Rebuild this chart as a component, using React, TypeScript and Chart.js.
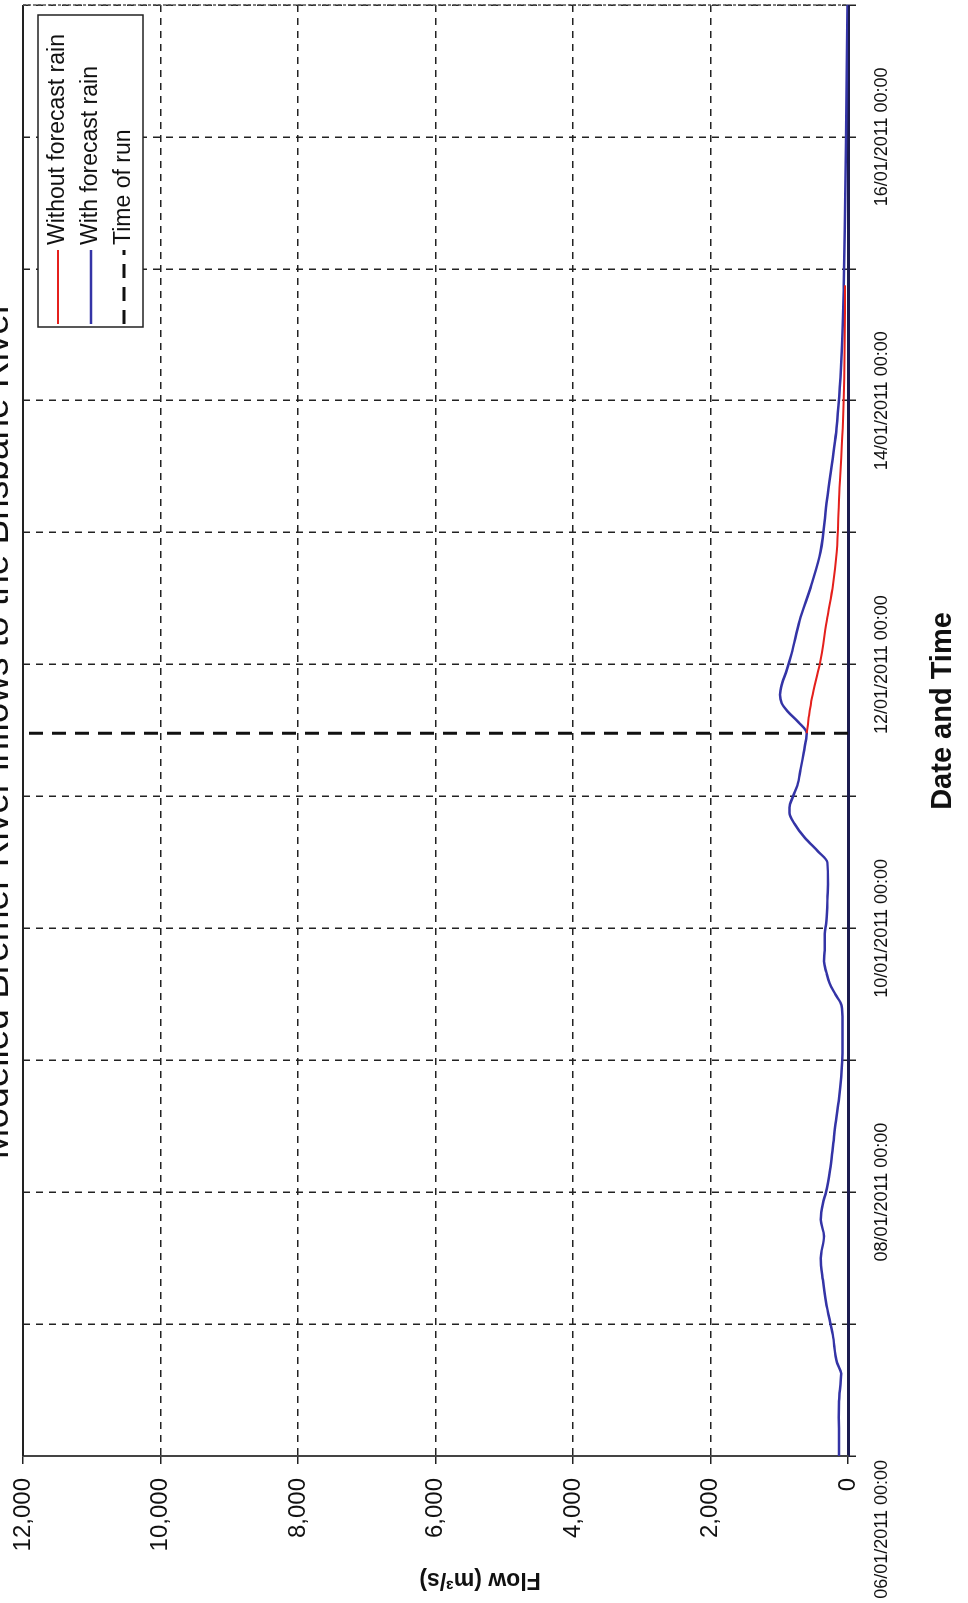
import React, { useEffect, useRef } from 'react';
import { Chart, registerables } from 'chart.js';

Chart.register(...registerables);

// ---------- data ----------
const chartTitle = 'Modelled Bremer River inflows to the Brisbane River';
const xAxisTitle = 'Date and Time';
const yAxisTitle = 'Flow (m³/s)';

// x ticks every 24 h from 06/01/2011 00:00; labels every 48 h
const dateTickLabels = [
  '06/01/2011 00:00',
  '08/01/2011 00:00',
  '10/01/2011 00:00',
  '12/01/2011 00:00',
  '14/01/2011 00:00',
  '16/01/2011 00:00',
];

// hours since 06/01/2011 00:00
const hoursWith = [0, 3, 7, 10, 15, 17, 22, 28, 32, 36, 40, 43, 46, 48, 52, 56, 61, 65, 72, 79, 82, 84, 86, 88, 90, 92, 95, 97, 101, 104, 108, 110, 112.5, 115, 117, 118, 120, 122, 125, 128, 131.5, 133.5, 135.5, 137, 138.5, 140.5, 143, 146, 152, 158.5, 164.5, 174, 187, 200, 213, 226, 239, 252, 264];
const flowWith = [130, 130, 135, 130, 100, 160, 220, 320, 365, 395, 350, 395, 365, 320, 262, 222, 175, 130, 85, 80, 95, 184, 267, 315, 350, 340, 340, 315, 300, 291, 300, 436, 630, 776, 850, 850, 800, 737, 689, 645, 600, 720, 880, 965, 990, 960, 890, 820, 703, 533, 400, 306, 166, 93, 62, 44, 29, 17, 8];

const hoursWithout = [131.5, 134.5, 138, 144, 152.5, 158.5, 164.5, 174, 187, 200, 213];
const flowWithout = [600, 570, 525, 412, 301, 218, 165, 131, 78, 52, 42];

const runHour = 131.5;
const runFlows = [0, 12000];

const W = 1603;
const H = 968;
const FONT = '"Liberation Sans", Arial, sans-serif';

const textPlugin = {
  id: 'texts',
  afterDraw(chart: any) {
    const { ctx, chartArea, scales } = chart;
    const xs = scales.x;
    ctx.save();
    // chart title (partly cut off at the page edge, as in the scan)
    ctx.font = `37px ${FONT}`;
    ctx.fillStyle = '#111';
    ctx.textAlign = 'center';
    ctx.textBaseline = 'alphabetic';
    ctx.fillText(chartTitle, (chartArea.left + chartArea.right) / 2, chartArea.top - 15);

    // x tick labels
    ctx.font = `18px ${FONT}`;
    ctx.textBaseline = 'top';
    dateTickLabels.forEach((lab, i) => {
      const px = xs.getPixelForValue(i * 48);
      if (i === 0) {
        ctx.textAlign = 'right';
        ctx.fillText(lab, px - 4, chartArea.bottom + 25);
      } else {
        ctx.textAlign = 'center';
        ctx.fillText(lab, px, chartArea.bottom + 25);
      }
    });

    // x axis title
    ctx.font = `bold 29px ${FONT}`;
    ctx.textAlign = 'center';
    ctx.textBaseline = 'middle';
    ctx.fillText(xAxisTitle, chartArea.left + 745, chartArea.bottom + 95);

    // y axis title
    ctx.save();
    ctx.translate(24, chartArea.top + 457);
    ctx.rotate(-Math.PI / 2);
    ctx.font = `bold 23px ${FONT}`;
    ctx.fillText(yAxisTitle, 0, 0);
    ctx.restore();
    ctx.restore();
  },
};

const framePlugin = {
  id: 'frame',
  afterDraw(chart: any) {
    const { ctx, chartArea } = chart;
    const { left, right, top, bottom } = chartArea;
    ctx.save();
    ctx.strokeStyle = '#222';
    ctx.lineWidth = 2;
    ctx.beginPath();
    ctx.moveTo(left, top);
    ctx.lineTo(right, top);
    ctx.stroke();
    ctx.strokeStyle = '#555';
    ctx.lineWidth = 1.5;
    ctx.setLineDash([3, 2]);
    ctx.beginPath();
    ctx.moveTo(right, top);
    ctx.lineTo(right, bottom);
    ctx.stroke();
    ctx.restore();
  },
};

const legendPlugin = {
  id: 'boxLegend',
  afterDraw(chart: any) {
    const { ctx, chartArea } = chart;
    const ds = chart.data.datasets;
    const boxW = 312;
    const boxH = 105;
    const x0 = chartArea.right - 10 - boxW;
    const y0 = chartArea.top + 15;
    ctx.save();
    ctx.fillStyle = '#fff';
    ctx.fillRect(x0, y0, boxW, boxH);
    ctx.strokeStyle = '#222';
    ctx.lineWidth = 1.5;
    ctx.strokeRect(x0, y0, boxW, boxH);
    ctx.font = `23px ${FONT}`;
    ctx.textBaseline = 'middle';
    ctx.textAlign = 'left';
    ds.forEach((d: any, i: number) => {
      const cy = y0 + 20 + i * 33;
      ctx.save();
      ctx.strokeStyle = d.borderColor;
      ctx.lineWidth = d.borderWidth;
      ctx.setLineDash(d.borderDash || []);
      ctx.beginPath();
      ctx.moveTo(x0 + 3, cy);
      ctx.lineTo(x0 + 77, cy);
      ctx.stroke();
      ctx.restore();
      ctx.fillStyle = '#111';
      ctx.fillText(d.label, x0 + 82, cy);
    });
    ctx.restore();
  },
};

export default function App() {
  const ref = useRef<HTMLCanvasElement | null>(null);

  useEffect(() => {
    if (!ref.current) return;
    const chart = new Chart(ref.current, {
      type: 'line',
      data: {
        datasets: [
          {
            label: 'Without forecast rain',
            data: hoursWithout.map((h, i) => ({ x: h, y: flowWithout[i] })),
            borderColor: '#e4201c',
            borderWidth: 2,
            pointRadius: 0,
            cubicInterpolationMode: 'monotone',
            fill: false,
          },
          {
            label: 'With forecast rain',
            data: hoursWith.map((h, i) => ({ x: h, y: flowWith[i] })),
            borderColor: '#3434a6',
            borderWidth: 2.5,
            pointRadius: 0,
            cubicInterpolationMode: 'monotone',
            fill: false,
          },
          {
            label: 'Time of run',
            data: runFlows.map((f) => ({ x: runHour, y: f })),
            borderColor: '#111',
            borderWidth: 3,
            borderDash: [14, 9],
            pointRadius: 0,
            fill: false,
          },
        ],
      },
      options: {
        responsive: false,
        animation: false,
        devicePixelRatio: 1,
        layout: { padding: { top: 23, right: 5, left: 0, bottom: 0 } },
        plugins: {
          legend: { display: false },
          title: { display: false },
          tooltip: { enabled: false },
        },
        scales: {
          x: {
            type: 'linear',
            min: 0,
            max: 264,
            afterFit: (s: any) => {
              s.height = 120;
              s.paddingLeft = 0;
              s.paddingRight = 0;
            },
            ticks: {
              display: false,
              stepSize: 24,
              autoSkip: false,
            },
            grid: {
              color: '#222',
              lineWidth: 1.5,
              tickLength: 8,
              tickColor: '#222',
            },
            border: { display: true, color: '#1c1c50', width: 3, dash: [7, 6] },
            title: { display: false },
          },
          y: {
            type: 'linear',
            min: 0,
            max: 12000,
            afterFit: (s: any) => {
              s.width = 147;
              s.paddingTop = 0;
              s.paddingBottom = 0;
            },
            ticks: {
              stepSize: 2000,
              padding: 14,
              color: '#111',
              font: { family: FONT, size: 24 },
              callback: (v: any) => Number(v).toLocaleString('en-US'),
            },
            grid: {
              color: '#222',
              lineWidth: 1.5,
              tickLength: 8,
              tickColor: '#222',
            },
            border: { display: true, color: '#444', width: 2, dash: [7, 6] },
            title: { display: false },
          },
        },
      },
      plugins: [framePlugin, legendPlugin, textPlugin],
    } as any);
    return () => chart.destroy();
  }, []);

  return (
    <div style={{ position: 'absolute', left: 0, top: 0, width: 968, height: 1603, overflow: 'hidden', background: '#fff' }}>
      <div
        style={{
          position: 'absolute',
          left: 0,
          top: 0,
          width: W,
          height: H,
          transformOrigin: '0 0',
          transform: `translate(0px, ${W}px) rotate(-90deg)`,
        }}
      >
        <canvas ref={ref} width={W} height={H} style={{ width: W, height: H, display: 'block' }} />
      </div>
    </div>
  );
}
